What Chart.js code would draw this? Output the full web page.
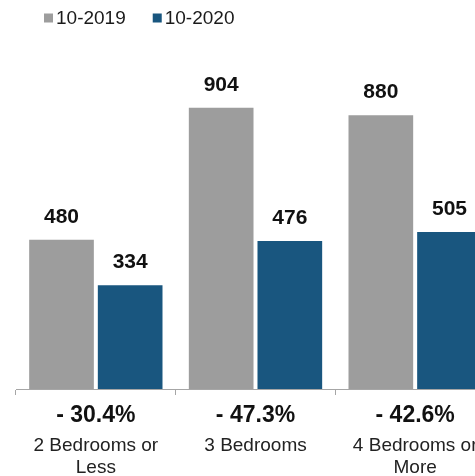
<!DOCTYPE html>
<html>
<head>
<meta charset="utf-8">
<script src="https://cdn.jsdelivr.net/npm/chart.js@4/dist/chart.umd.min.js"></script>
<style>
  html, body { margin: 0; padding: 0; background: #ffffff; overflow: hidden; }
  #wrap { width: 495px; height: 476px; }
</style>
</head>
<body>
<div id="wrap"><canvas id="chart" width="495" height="476"></canvas></div>
<script>
// Home sales by bedroom count, October 2019 vs October 2020
const categories = [['2 Bedrooms or', 'Less'], ['3 Bedrooms'], ['4 Bedrooms or', 'More']];
const seriesNames = ['10-2019', '10-2020'];
const sales2019 = [480, 904, 880];
const sales2020 = [334, 476, 505];
const seriesColors = ['#9d9d9d', '#19567f'];

// Year-over-year change shown under each group
const changeLabels = sales2019.map((v, i) => {
  const pct = (sales2020[i] - v) / v * 100;
  return (pct < 0 ? '- ' : '+ ') + Math.abs(pct).toFixed(1) + '%';
});

const FONT = '"Liberation Sans", Arial, Helvetica, sans-serif';

// Value printed above every bar
const valueLabels = {
  id: 'valueLabels',
  afterDatasetsDraw(chart) {
    const ctx = chart.ctx;
    ctx.save();
    ctx.font = 'bold 21px ' + FONT;
    ctx.fillStyle = '#111111';
    ctx.textAlign = 'center';
    ctx.textBaseline = 'alphabetic';
    chart.data.datasets.forEach((ds, di) => {
      chart.getDatasetMeta(di).data.forEach((bar, i) => {
        ctx.fillText(String(ds.data[i]), bar.x, bar.y - 17);
      });
    });
    ctx.restore();
  }
};

// Compact legend row along the top edge
const topLegend = {
  id: 'topLegend',
  afterDraw(chart) {
    const ctx = chart.ctx;
    ctx.save();
    ctx.font = '19px ' + FONT;
    ctx.textBaseline = 'alphabetic';
    ctx.textAlign = 'left';
    let x = 44;
    chart.data.datasets.forEach(ds => {
      ctx.fillStyle = ds.backgroundColor;
      ctx.fillRect(x, 13.5, 9, 9);
      ctx.fillStyle = '#1a1a1a';
      ctx.fillText(ds.label, x + 12, 23.5);
      x += 9 + 12 + ctx.measureText(ds.label).width + 18;
    });
    ctx.restore();
  }
};

new Chart(document.getElementById('chart'), {
  type: 'bar',
  data: {
    labels: categories,
    datasets: [
      { label: seriesNames[0], data: sales2019, backgroundColor: seriesColors[0] },
      { label: seriesNames[1], data: sales2020, backgroundColor: seriesColors[1] }
    ]
  },
  options: {
    responsive: false,
    animation: false,
    devicePixelRatio: 1,
    layout: { padding: { top: 78, left: 16, right: 0, bottom: 0 } },
    datasets: { bar: { categoryPercentage: 0.86, barPercentage: 0.942 } },
    plugins: { legend: { display: false }, tooltip: { enabled: false } },
    scales: {
      y: { display: false, min: 0, max: 1000 },
      x: {
        position: 'bottom',
        weight: 0,
        grid: { display: true, drawOnChartArea: false, drawTicks: true, tickLength: 6, color: '#a6a6a6', offset: true },
        border: { display: true, color: '#a6a6a6', width: 1 },
        ticks: {
          autoSkip: false, maxRotation: 0, minRotation: 0, padding: 7,
          color: '#111111',
          font: { family: FONT, size: 23, weight: 'bold', lineHeight: 1.2 },
          callback: (value, index) => changeLabels[index]
        },
        afterFit: scale => { scale.height = 43; }
      },
      x2: {
        type: 'category',
        position: 'bottom',
        weight: 1,
        labels: categories,
        offset: true,
        grid: { display: false },
        border: { display: false },
        ticks: {
          autoSkip: false, maxRotation: 0, minRotation: 0, padding: -6,
          color: '#222222',
          font: { family: FONT, size: 19, lineHeight: 1.2 }
        },
        afterFit: scale => { scale.height = 44; }
      }
    }
  },
  plugins: [valueLabels, topLegend]
});
</script>
</body>
</html>
